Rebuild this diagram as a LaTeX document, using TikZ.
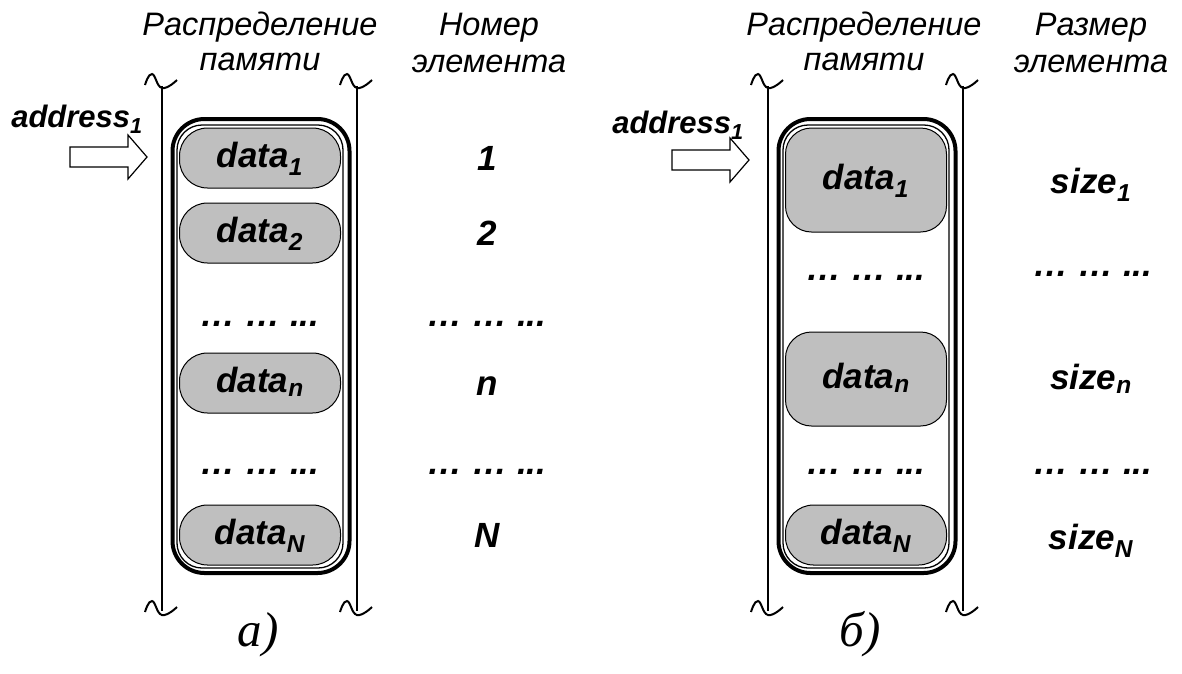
\documentclass[tikz,border=0pt]{standalone}
\usepackage{fontspec}
\setmainfont{Liberation Sans}
\newfontfamily\serifit{Liberation Serif}
\begin{document}
\begin{tikzpicture}[x=1pt,y=-1pt,
  hdr/.style={font=\fontsize{32.5}{36}\selectfont\itshape, inner sep=0pt},
  lbl/.style={font=\fontsize{35}{40}\selectfont\bfseries\itshape, inner sep=0pt},
  addr/.style={font=\fontsize{31}{34}\selectfont\bfseries\itshape, inner sep=0pt},
  capt/.style={font=\fontsize{49}{52}\selectfont\serifit\itshape, inner sep=0pt},
  databox/.style={draw, line width=1pt, fill=black!25, rounded corners=28pt, minimum width=161pt, minimum height=60pt, inner sep=0pt},
  outerbox/.style={draw, line width=4pt, rounded corners=32pt, minimum width=177pt, minimum height=454pt, inner sep=0pt},
  innerbox/.style={draw, line width=1.3pt, rounded corners=25pt, minimum width=166pt, minimum height=443pt, inner sep=0pt},
  bracket/.style={line width=2pt},
  blockarrow/.style={draw, line width=1.2pt, fill=white},
  tilde/.pic={\draw[line width=2pt] plot[smooth, tension=0.8] coordinates {(-17,5) (-10,-6) (0,8) (15,0)};}
]
\useasboundingbox (0,0) rectangle (1182,673);

% ================= panel a =================
\node[outerbox] (boxA) at (261,346) {};
\node[innerbox] (inA) at (260,346.5) {};
\draw[bracket] (162,86) -- (162,611);
\draw[bracket] (357,86) -- (357,611);
\pic at (162,80) {tilde};
\pic at (357,80) {tilde};
\pic at (162,607) {tilde};
\pic at (357,607) {tilde};

\node[hdr, anchor=base] (hA1) at (260,35) {Распределение};
\node[hdr, anchor=base] (hA2) at (260,70) {памяти};
\node[hdr, anchor=base] (hA3) at (489,35) {Номер};
\node[hdr, anchor=base] (hA4) at (489,72) {элемента};

\node[addr, anchor=base] (adA) at (77,127) {address\textsubscript{1}};
\draw[blockarrow] (70,147) -- (128,147) -- (128,135) -- (147,157) -- (128,179) -- (128,167) -- (70,167) -- cycle;

\node[databox] (a1) at (260,158) {};
\node[lbl, anchor=base] (ta1) at (a1.center) [yshift=-9pt] {data\textsubscript{1}};
\node[databox] (a2) at (260,233) {};
\node[lbl, anchor=base] (ta2) at (a2.center) [yshift=-9pt] {data\textsubscript{2}};
\node[lbl, anchor=base] (da1) at (260,326) {… … ...};
\node[databox] (an) at (260,383) {};
\node[lbl, anchor=base] (tan) at (an.center) [yshift=-9pt] {data\textsubscript{n}};
\node[lbl, anchor=base] (da2) at (260,474) {… … ...};
\node[databox] (aN) at (260,535) {};
\node[lbl, anchor=base] (taN) at (aN.center) [yshift=-9pt] {data\textsubscript{N}};

\node[lbl, anchor=base] (n1) at (487,170) {1};
\node[lbl, anchor=base] (n2) at (487,245) {2};
\node[lbl, anchor=base] (n3) at (487,326) {… … ...};
\node[lbl, anchor=base] (n4) at (487,395) {n};
\node[lbl, anchor=base] (n5) at (487,474) {… … ...};
\node[lbl, anchor=base] (n6) at (487,547) {N};

\node[capt, anchor=base] (capA) at (258,646) {а)};

% ================= panel b =================
\node[outerbox] (boxB) at (867,346) {};
\node[innerbox] (inB) at (866,346.5) {};
\draw[bracket] (768,86) -- (768,611);
\draw[bracket] (963,86) -- (963,611);
\pic at (768,80) {tilde};
\pic at (963,80) {tilde};
\pic at (768,607) {tilde};
\pic at (963,607) {tilde};

\node[hdr, anchor=base] (hB1) at (864,35) {Распределение};
\node[hdr, anchor=base] (hB2) at (864,70) {памяти};
\node[hdr, anchor=base] (hB3) at (1091,35) {Размер};
\node[hdr, anchor=base] (hB4) at (1091,72) {элемента};

\node[addr, anchor=base] (adB) at (678,133) {address\textsubscript{1}};
\draw[blockarrow] (672,150) -- (730,150) -- (730,138) -- (749,160) -- (730,182) -- (730,170) -- (672,170) -- cycle;

\node[databox, minimum height=104pt, rounded corners=26pt] (b1) at (866,180) {};
\node[lbl, anchor=base] (tb1) at (b1.center) [yshift=-9pt] {data\textsubscript{1}};
\node[lbl, anchor=base] (db1) at (866,280) {… … ...};
\node[databox, minimum height=94pt, rounded corners=26pt] (bn) at (866,379) {};
\node[lbl, anchor=base] (tbn) at (bn.center) [yshift=-9pt] {data\textsubscript{n}};
\node[lbl, anchor=base] (db2) at (866,474) {… … ...};
\node[databox] (bN) at (866,535) {};
\node[lbl, anchor=base] (tbN) at (bN.center) [yshift=-9pt] {data\textsubscript{N}};

\node[lbl, anchor=base] (s1) at (1091,193) {size\textsubscript{1}};
\node[lbl, anchor=base] (s2) at (1093,276) {… … ...};
\node[lbl, anchor=base] (s3) at (1091,389) {size\textsubscript{n}};
\node[lbl, anchor=base] (s4) at (1093,474) {… … ...};
\node[lbl, anchor=base] (s5) at (1091,549) {size\textsubscript{N}};

\node[capt, anchor=base] (capB) at (860,646) {б)};
\end{tikzpicture}
\end{document}
